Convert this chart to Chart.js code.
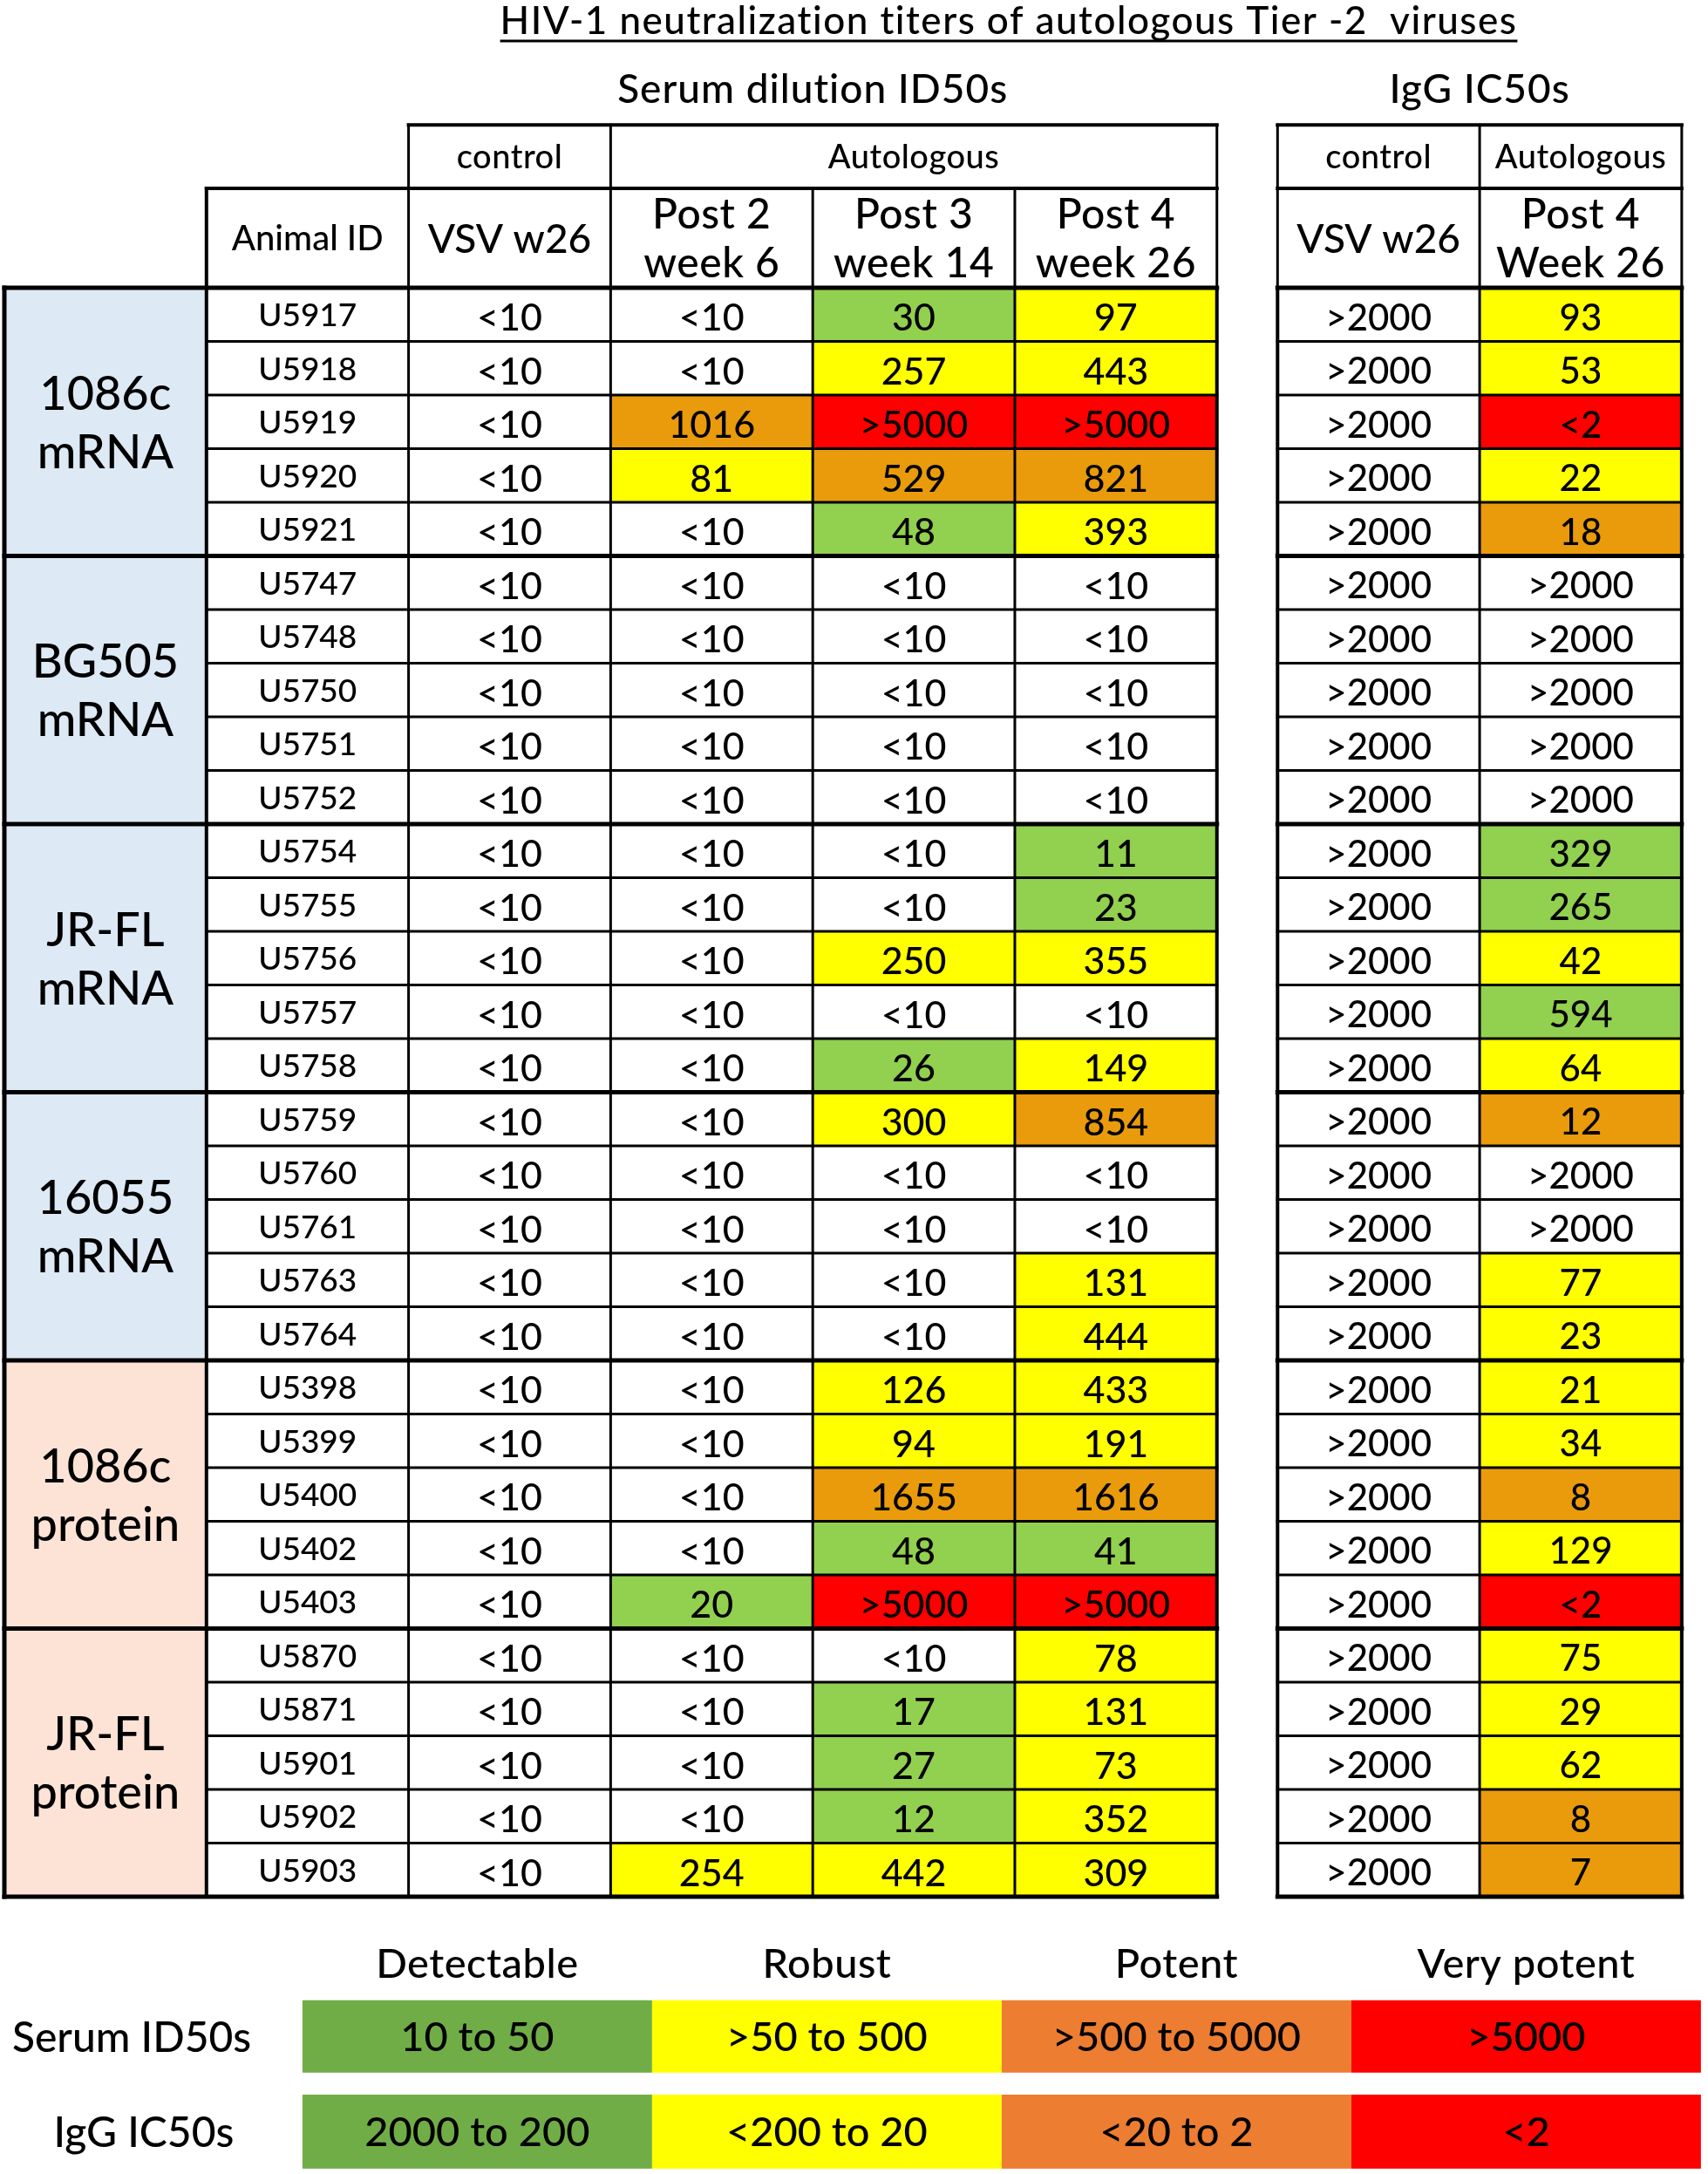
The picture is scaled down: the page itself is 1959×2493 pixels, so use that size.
<!DOCTYPE html>
<html>
<head>
<meta charset="utf-8">
<script src="https://cdn.jsdelivr.net/npm/chart.js@4.4.1/dist/chart.umd.min.js"></script>
<style>
  html, body { margin: 0; padding: 0; background: #fff; }
  #wrap { width: 1959px; height: 2493px; }
</style>
</head>
<body>
<div id="wrap"><canvas id="titers"></canvas></div>
<script>
// ---- data ----
const title = "HIV-1 neutralization titers of autologous Tier -2  viruses";
const groups = ["1086c mRNA", "BG505 mRNA", "JR-FL mRNA", "16055 mRNA", "1086c protein", "JR-FL protein"];

const animalIds = [
  "U5917","U5918","U5919","U5920","U5921",
  "U5747","U5748","U5750","U5751","U5752",
  "U5754","U5755","U5756","U5757","U5758",
  "U5759","U5760","U5761","U5763","U5764",
  "U5398","U5399","U5400","U5402","U5403",
  "U5870","U5871","U5901","U5902","U5903"
];
const vsvW26 = Array(30).fill("<10");
const post2 = [
  "<10","<10","1016","81","<10",
  "<10","<10","<10","<10","<10",
  "<10","<10","<10","<10","<10",
  "<10","<10","<10","<10","<10",
  "<10","<10","<10","<10","20",
  "<10","<10","<10","<10","254"
];
const post3 = [
  "30","257",">5000","529","48",
  "<10","<10","<10","<10","<10",
  "<10","<10","250","<10","26",
  "300","<10","<10","<10","<10",
  "126","94","1655","48",">5000",
  "<10","17","27","12","442"
];
const post4 = [
  "97","443",">5000","821","393",
  "<10","<10","<10","<10","<10",
  "11","23","355","<10","149",
  "854","<10","<10","131","444",
  "433","191","1616","41",">5000",
  "78","131","73","352","309"
];
const iggControl = Array(30).fill(">2000");
const iggPost4 = [
  "93","53","<2","22","18",
  ">2000",">2000",">2000",">2000",">2000",
  "329","265","42","594","64",
  "12",">2000",">2000","77","23",
  "21","34","8","129","<2",
  "75","29","62","8","7"
];

const levels = ["Detectable", "Robust", "Potent", "Very potent"];
const serumRanges = ["10 to 50", ">50 to 500", ">500 to 5000", ">5000"];
const iggRanges = ["2000 to 200", "<200 to 20", "<20 to 2", "<2"];

// ---- styles ----
const FONT = "Lato, 'Open Sans', sans-serif";
const WEIGHT = "500";
const cellColors = ["#92d050", "#ffff00", "#e99b0c", "#ff0000"];
const legendColors = ["#70ad47", "#ffff00", "#ed7d31", "#ff0000"];
const mrnaFill = "#dde9f5";
const proteinFill = "#fce3d6";

// serum ID50: 10-50, >50-500, >500-5000, >5000
function serumLevel(s) {
  if (s.startsWith("<")) return -1;
  if (s.startsWith(">")) return 3;
  const v = parseFloat(s);
  if (v <= 50) return 0;
  if (v <= 500) return 1;
  if (v <= 5000) return 2;
  return 3;
}
// IgG IC50: 2000-200, <200-20, <20-2, <2
function iggLevel(s) {
  if (s.startsWith(">")) return -1;
  if (s.startsWith("<")) return 3;
  const v = parseFloat(s);
  if (v >= 200) return 0;
  if (v >= 20) return 1;
  if (v >= 2) return 2;
  return 3;
}

// layout in scale units: one column = 1 x unit, one data row = 1 y unit
const rightStart = 6.3;
const head1 = [-3.035, -1.854];
const head2 = [-1.854, 0];
const legendX = [1.475, 3.205, 4.935, 6.665, 8.395];

const tablePlugin = {
  id: "titerTable",
  beforeDraw(chart) {
    const ctx = chart.ctx;
    ctx.save();
    ctx.fillStyle = "#fff";
    ctx.fillRect(0, 0, chart.width, chart.height);
    ctx.restore();
  },
  afterDraw(chart) {
    const { ctx } = chart;
    const x = chart.scales.x, y = chart.scales.y;
    const px = v => x.getPixelForValue(v);
    const py = v => y.getPixelForValue(v);

    function box(x0, x1, y0, y1, fill) {
      ctx.fillStyle = fill;
      ctx.fillRect(px(x0), py(y0), px(x1) - px(x0), py(y1) - py(y0));
    }
    function hline(yv, x0, x1, w) {
      ctx.lineWidth = w;
      ctx.beginPath();
      ctx.moveTo(px(x0) - w / 2, py(yv));
      ctx.lineTo(px(x1) + w / 2, py(yv));
      ctx.stroke();
    }
    function vline(xv, y0, y1, w) {
      ctx.lineWidth = w;
      ctx.beginPath();
      ctx.moveTo(px(xv), py(y0) - w / 2);
      ctx.lineTo(px(xv), py(y1) + w / 2);
      ctx.stroke();
    }
    // text visually centred on its cap height
    function text(str, xv, yv, size, dy, spacing) {
      ctx.font = WEIGHT + " " + size + "px " + FONT;
      ctx.letterSpacing = (spacing || 0) + "px";
      ctx.fillStyle = "#000";
      ctx.textAlign = "center";
      ctx.textBaseline = "alphabetic";
      ctx.fillText(str, px(xv), py(yv) + size * 0.36 + (dy || 0));
      ctx.letterSpacing = "0px";
    }
    function lines2(a, b, xv, yc, gap, size, spacing) {
      text(a, xv, yc - gap / 2, size, 0, spacing);
      text(b, xv, yc + gap / 2, size, 0, spacing);
    }

    ctx.save();

    // ---- title and sub headings ----
    ctx.font = WEIGHT + " 44px " + FONT;
    ctx.letterSpacing = "1.5px";
    ctx.fillStyle = "#000";
    ctx.textAlign = "center";
    ctx.textBaseline = "alphabetic";
    const tx = px(4.97), ty = py(-4.73);
    ctx.fillText(title, tx, ty);
    const tw = ctx.measureText(title).width;
    ctx.letterSpacing = "0px";
    ctx.strokeStyle = "#000";
    ctx.lineWidth = 3;
    ctx.beginPath();
    ctx.moveTo(tx - tw / 2, ty + 8);
    ctx.lineTo(tx + tw / 2, ty + 8);
    ctx.stroke();

    text("Serum dilution ID50s", 4, -3.71, 46, 0, 1);
    text("IgG IC50s", rightStart + 1, -3.71, 46, 0, 1);

    // ---- cell fills ----
    groups.forEach((g, gi) => {
      box(0, 1, gi * 5, gi * 5 + 5, g.includes("protein") ? proteinFill : mrnaFill);
    });
    const serumCols = [vsvW26, post2, post3, post4];
    serumCols.forEach((col, ci) => {
      col.forEach((s, r) => {
        const lv = serumLevel(s);
        if (lv >= 0) box(2 + ci, 3 + ci, r, r + 1, cellColors[lv]);
      });
    });
    [iggControl, iggPost4].forEach((col, ci) => {
      col.forEach((s, r) => {
        const lv = iggLevel(s);
        if (lv >= 0) box(rightStart + ci, rightStart + 1 + ci, r, r + 1, cellColors[lv]);
      });
    });

    // ---- grid lines ----
    ctx.strokeStyle = "#000";
    const thin = 3, thick = 5;
    const nRows = animalIds.length;

    // left table headers
    hline(head1[0], 2, 6, 4);
    hline(head1[1], 1, 6, 4);
    vline(2, head1[0], head1[1], thin);
    vline(3, head1[0], head1[1], thin);
    vline(6, head1[0], head1[1], thin);
    [1, 2, 3, 4, 5, 6].forEach(c => vline(c, head2[0], head2[1], c === 1 ? 4 : thin));
    // left table body
    for (let r = 1; r < nRows; r++) {
      if (r % 5 !== 0) hline(r, 1, 6, thin);
    }
    [1, 2, 3, 4, 5].forEach(c => vline(c, 0, nRows, c === 1 ? 4 : thin));
    vline(0, 0, nRows, thick);
    vline(6, 0, nRows, 4);
    for (let r = 0; r <= nRows; r += 5) hline(r, 0, 6, thick);

    // right table
    const r0 = rightStart, r1 = rightStart + 1, r2 = rightStart + 2;
    hline(head1[0], r0, r2, 4);
    hline(head1[1], r0, r2, 4);
    [r0, r1, r2].forEach(c => vline(c, head1[0], head2[1], thin));
    for (let r = 1; r < nRows; r++) {
      if (r % 5 !== 0) hline(r, r0, r2, thin);
    }
    vline(r1, 0, nRows, thin);
    vline(r0, 0, nRows, 4);
    vline(r2, 0, nRows, 4);
    for (let r = 0; r <= nRows; r += 5) hline(r, r0, r2, thick);

    // ---- header texts ----
    const h1c = (head1[0] + head1[1]) / 2;
    const h2c = (head2[0] + head2[1]) / 2;
    text("control", 2.5, h1c, 38, 0, 0.5);
    text("Autologous", 4.5, h1c, 38, 0, 0.5);
    text("control", r0 + 0.5, h1c, 38, 0, 0.5);
    text("Autologous", r1 + 0.5, h1c, 38, 0, 0.5);

    text("Animal ID", 1.5, h2c, 40);
    text("VSV w26", 2.5, h2c, 46);
    lines2("Post 2", "week 6", 3.5, h2c, 0.91, 48, 0.5);
    lines2("Post 3", "week 14", 4.5, h2c, 0.91, 48, 0.5);
    lines2("Post 4", "week 26", 5.5, h2c, 0.91, 48, 0.5);
    text("VSV w26", r0 + 0.5, h2c, 46);
    lines2("Post 4", "Week 26", r1 + 0.5, h2c, 0.91, 48, 0.5);

    // ---- body texts ----
    groups.forEach((g, gi) => {
      const parts = g.split(" ");
      lines2(parts[0], parts[1], 0.5, gi * 5 + 2.5, 1.09, 54);
    });
    animalIds.forEach((id, r) => text(id, 1.5, r + 0.5, 37));
    serumCols.forEach((col, ci) => {
      col.forEach((s, r) => text(s, 2.5 + ci, r + 0.5, 43, 3));
    });
    [iggControl, iggPost4].forEach((col, ci) => {
      col.forEach((s, r) => text(s, r0 + 0.5 + ci, r + 0.5, 42, 3));
    });

    // ---- colour key ----
    const keyRows = [[31.93, 33.28], [33.69, 35.07]];
    levels.forEach((lv, i) => {
      const cx = (legendX[i] + legendX[i + 1]) / 2;
      text(lv, cx, 31.24, 47, 0, 0.5);
      box(legendX[i], legendX[i + 1], keyRows[0][0], keyRows[0][1], legendColors[i]);
      box(legendX[i], legendX[i + 1], keyRows[1][0], keyRows[1][1], legendColors[i]);
      text(serumRanges[i], cx, (keyRows[0][0] + keyRows[0][1]) / 2, 47);
      text(iggRanges[i], cx, (keyRows[1][0] + keyRows[1][1]) / 2, 47);
    });
    text("Serum ID50s", 0.63, (keyRows[0][0] + keyRows[0][1]) / 2, 48);
    text("IgG IC50s", 0.69, (keyRows[1][0] + keyRows[1][1]) / 2, 48);

    ctx.restore();
  }
};

new Chart(document.getElementById("titers"), {
  type: "scatter",
  data: { datasets: [] },
  options: {
    responsive: true,
    maintainAspectRatio: false,
    animation: false,
    events: [],
    layout: { padding: 0 },
    plugins: { legend: { display: false }, tooltip: { enabled: false } },
    scales: {
      x: { type: "linear", min: -0.0216, max: 8.43, display: false },
      y: { type: "linear", min: -5.366, max: 35.17, reverse: true, display: false }
    }
  },
  plugins: [tablePlugin]
});
</script>
</body>
</html>
